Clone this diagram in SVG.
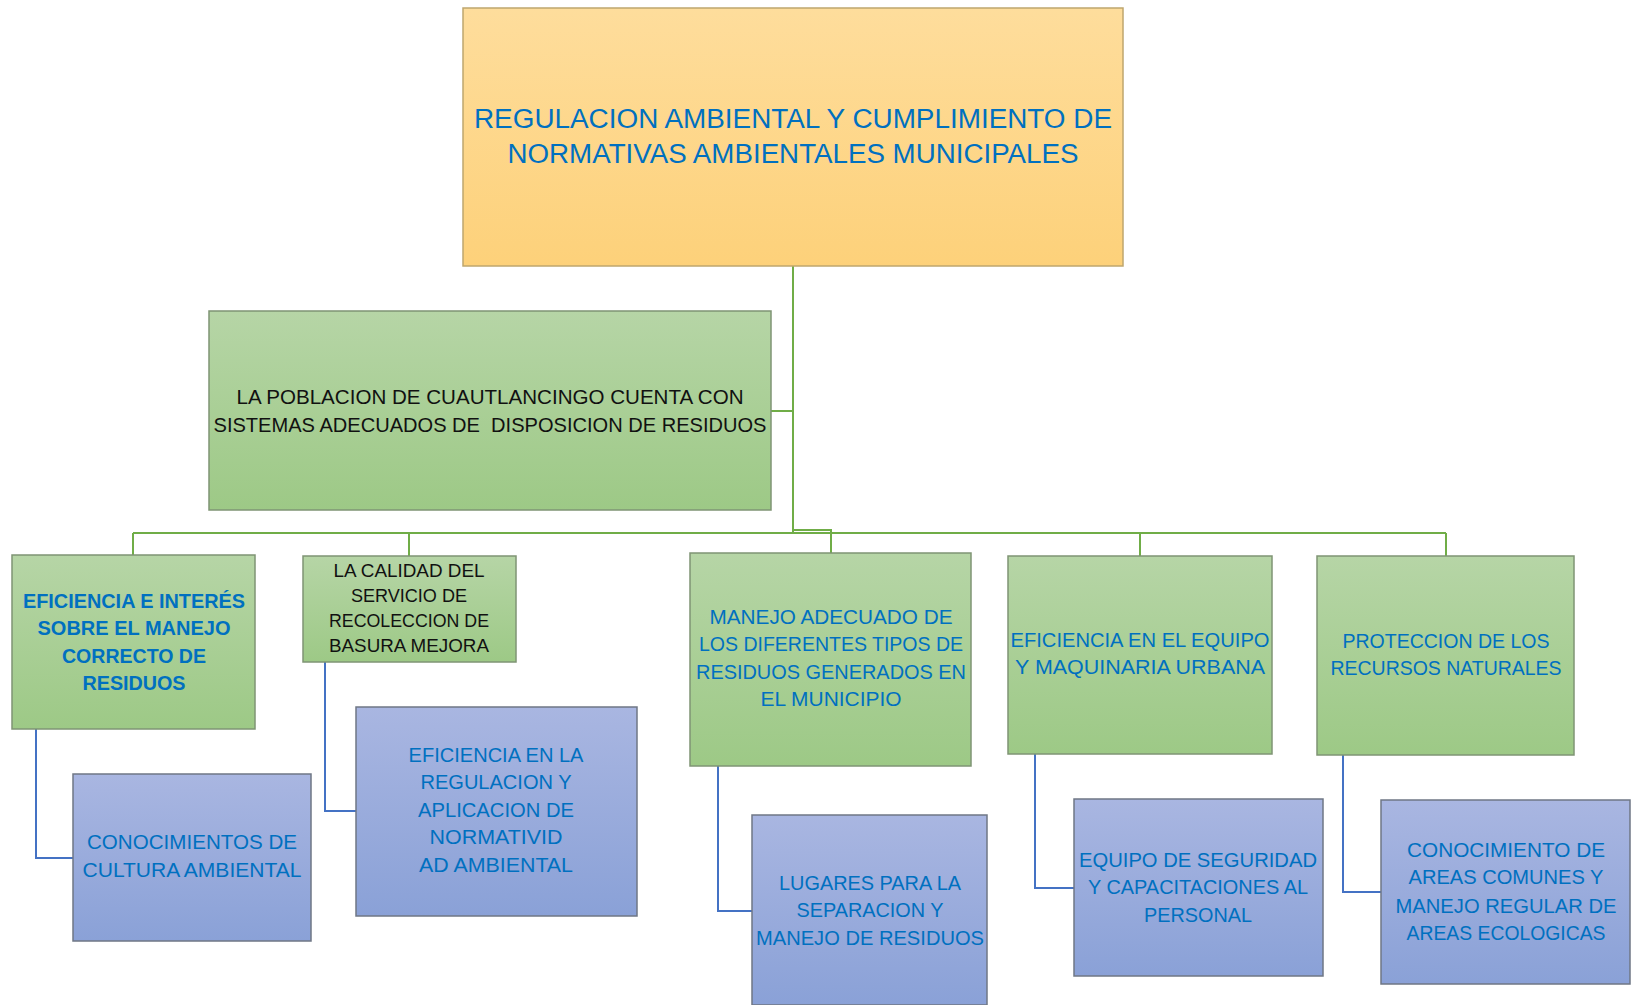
<svg xmlns="http://www.w3.org/2000/svg" width="1632" height="1005" viewBox="0 0 1632 1005">
<defs>
<linearGradient id="gOr" x1="0" y1="0" x2="0" y2="1"><stop offset="0" stop-color="#FEDD9C"/><stop offset="1" stop-color="#FDD17A"/></linearGradient>
<linearGradient id="gGr" x1="0" y1="0" x2="0" y2="1"><stop offset="0" stop-color="#B6D5A6"/><stop offset="1" stop-color="#9DC986"/></linearGradient>
<linearGradient id="gBl" x1="0" y1="0" x2="0" y2="1"><stop offset="0" stop-color="#A9B6E1"/><stop offset="1" stop-color="#8AA1D7"/></linearGradient>
<style>
.or{fill:url(#gOr);stroke:#BFA66E;stroke-width:1.5}
.gr{fill:url(#gGr);stroke:#7F9474;stroke-width:1.5}
.bl{fill:url(#gBl);stroke:#6F7785;stroke-width:1.5}
text{font-family:"Liberation Sans",Arial,sans-serif;text-anchor:middle;fill:#0070C0}
.t0{font-size:27px}
.t1{font-size:21px}
.t2{font-size:19px}
.k{fill:#111111}
.b{font-weight:bold}
.pre{white-space:pre}
.cg{fill:none;stroke:#70AD47;stroke-width:2}
.cb{fill:none;stroke:#4472C4;stroke-width:2}
</style>
</defs>
<g id="connectors">
<path class="cg" d="M793 266 V533"/>
<path class="cg" d="M771 411 H793"/>
<path class="cg" d="M133 533 H1446"/>
<path class="cg" d="M793 530 H831 V553"/>
<path class="cg" d="M133 533 V556"/>
<path class="cg" d="M409 533 V556"/>
<path class="cg" d="M1140 533 V556"/>
<path class="cg" d="M1446 533 V556"/>
<path class="cb" d="M36 729 V858 H73"/>
<path class="cb" d="M325 662 V811 H356"/>
<path class="cb" d="M718 766 V911 H752"/>
<path class="cb" d="M1035 754 V888 H1074"/>
<path class="cb" d="M1343 755 V892 H1381"/>
</g>
<g id="n-root">
<rect class="or" x="463" y="8" width="660" height="258"/>
<text class="t0" x="793" y="128" textLength="638" lengthAdjust="spacingAndGlyphs">REGULACION AMBIENTAL Y CUMPLIMIENTO DE</text>
<text class="t0" x="793" y="163" textLength="571" lengthAdjust="spacingAndGlyphs">NORMATIVAS AMBIENTALES MUNICIPALES</text>
</g>
<g id="n-poblacion">
<rect class="gr" x="209" y="311" width="562" height="199"/>
<text class="t1 k" x="490" y="404" textLength="507" lengthAdjust="spacingAndGlyphs">LA POBLACION DE CUAUTLANCINGO CUENTA CON</text>
<text class="t1 k pre" x="490" y="432" textLength="553" lengthAdjust="spacingAndGlyphs">SISTEMAS ADECUADOS DE  DISPOSICION DE RESIDUOS</text>
</g>
<g id="n-eficiencia-interes">
<rect class="gr" x="12" y="555" width="243" height="174"/>
<text class="t1 b" x="134" y="608" textLength="222" lengthAdjust="spacingAndGlyphs">EFICIENCIA E INTERÉS</text>
<text class="t1 b" x="134" y="635" textLength="193" lengthAdjust="spacingAndGlyphs">SOBRE EL MANEJO</text>
<text class="t1 b" x="134" y="663" textLength="144" lengthAdjust="spacingAndGlyphs">CORRECTO DE</text>
<text class="t1 b" x="134" y="690" textLength="103" lengthAdjust="spacingAndGlyphs">RESIDUOS</text>
</g>
<g id="n-calidad">
<rect class="gr" x="303" y="556" width="213" height="106"/>
<text class="t2 k" x="409" y="577" textLength="151" lengthAdjust="spacingAndGlyphs">LA CALIDAD DEL</text>
<text class="t2 k" x="409" y="602" textLength="116" lengthAdjust="spacingAndGlyphs">SERVICIO DE</text>
<text class="t2 k" x="409" y="627" textLength="160" lengthAdjust="spacingAndGlyphs">RECOLECCION DE</text>
<text class="t2 k" x="409" y="652" textLength="160" lengthAdjust="spacingAndGlyphs">BASURA MEJORA</text>
</g>
<g id="n-manejo">
<rect class="gr" x="690" y="553" width="281" height="213"/>
<text class="t1" x="831" y="624" textLength="243" lengthAdjust="spacingAndGlyphs">MANEJO ADECUADO DE</text>
<text class="t1" x="831" y="651" textLength="264" lengthAdjust="spacingAndGlyphs">LOS DIFERENTES TIPOS DE</text>
<text class="t1" x="831" y="679" textLength="270" lengthAdjust="spacingAndGlyphs">RESIDUOS GENERADOS EN</text>
<text class="t1" x="831" y="706" textLength="141" lengthAdjust="spacingAndGlyphs">EL MUNICIPIO</text>
</g>
<g id="n-equipo">
<rect class="gr" x="1008" y="556" width="264" height="198"/>
<text class="t1" x="1140" y="647" textLength="259" lengthAdjust="spacingAndGlyphs">EFICIENCIA EN EL EQUIPO</text>
<text class="t1" x="1140" y="674" textLength="250" lengthAdjust="spacingAndGlyphs">Y MAQUINARIA URBANA</text>
</g>
<g id="n-proteccion">
<rect class="gr" x="1317" y="556" width="257" height="199"/>
<text class="t1" x="1446" y="648" textLength="207" lengthAdjust="spacingAndGlyphs">PROTECCION DE LOS</text>
<text class="t1" x="1446" y="675" textLength="231" lengthAdjust="spacingAndGlyphs">RECURSOS NATURALES</text>
</g>
<g id="n-cultura">
<rect class="bl" x="73" y="774" width="238" height="167"/>
<text class="t1" x="192" y="849" textLength="210" lengthAdjust="spacingAndGlyphs">CONOCIMIENTOS DE</text>
<text class="t1" x="192" y="877" textLength="219" lengthAdjust="spacingAndGlyphs">CULTURA AMBIENTAL</text>
</g>
<g id="n-normatividad">
<rect class="bl" x="356" y="707" width="281" height="209"/>
<text class="t1" x="496" y="762" textLength="175" lengthAdjust="spacingAndGlyphs">EFICIENCIA EN LA</text>
<text class="t1" x="496" y="789" textLength="151" lengthAdjust="spacingAndGlyphs">REGULACION Y</text>
<text class="t1" x="496" y="817" textLength="156" lengthAdjust="spacingAndGlyphs">APLICACION DE</text>
<text class="t1" x="496" y="844" textLength="133" lengthAdjust="spacingAndGlyphs">NORMATIVID</text>
<text class="t1" x="496" y="872" textLength="154" lengthAdjust="spacingAndGlyphs">AD AMBIENTAL</text>
</g>
<g id="n-lugares">
<rect class="bl" x="752" y="815" width="235" height="190"/>
<text class="t1" x="870" y="890" textLength="182" lengthAdjust="spacingAndGlyphs">LUGARES PARA LA</text>
<text class="t1" x="870" y="917" textLength="147" lengthAdjust="spacingAndGlyphs">SEPARACION Y</text>
<text class="t1" x="870" y="945" textLength="228" lengthAdjust="spacingAndGlyphs">MANEJO DE RESIDUOS</text>
</g>
<g id="n-seguridad">
<rect class="bl" x="1074" y="799" width="249" height="177"/>
<text class="t1" x="1198" y="867" textLength="238" lengthAdjust="spacingAndGlyphs">EQUIPO DE SEGURIDAD</text>
<text class="t1" x="1198" y="894" textLength="220" lengthAdjust="spacingAndGlyphs">Y CAPACITACIONES AL</text>
<text class="t1" x="1198" y="922" textLength="108" lengthAdjust="spacingAndGlyphs">PERSONAL</text>
</g>
<g id="n-areas">
<rect class="bl" x="1381" y="800" width="249" height="184"/>
<text class="t1" x="1506" y="857" textLength="198" lengthAdjust="spacingAndGlyphs">CONOCIMIENTO DE</text>
<text class="t1" x="1506" y="884" textLength="195" lengthAdjust="spacingAndGlyphs">AREAS COMUNES Y</text>
<text class="t1" x="1506" y="913" textLength="221" lengthAdjust="spacingAndGlyphs">MANEJO REGULAR DE</text>
<text class="t1" x="1506" y="940" textLength="199" lengthAdjust="spacingAndGlyphs">AREAS ECOLOGICAS</text>
</g>
</svg>
